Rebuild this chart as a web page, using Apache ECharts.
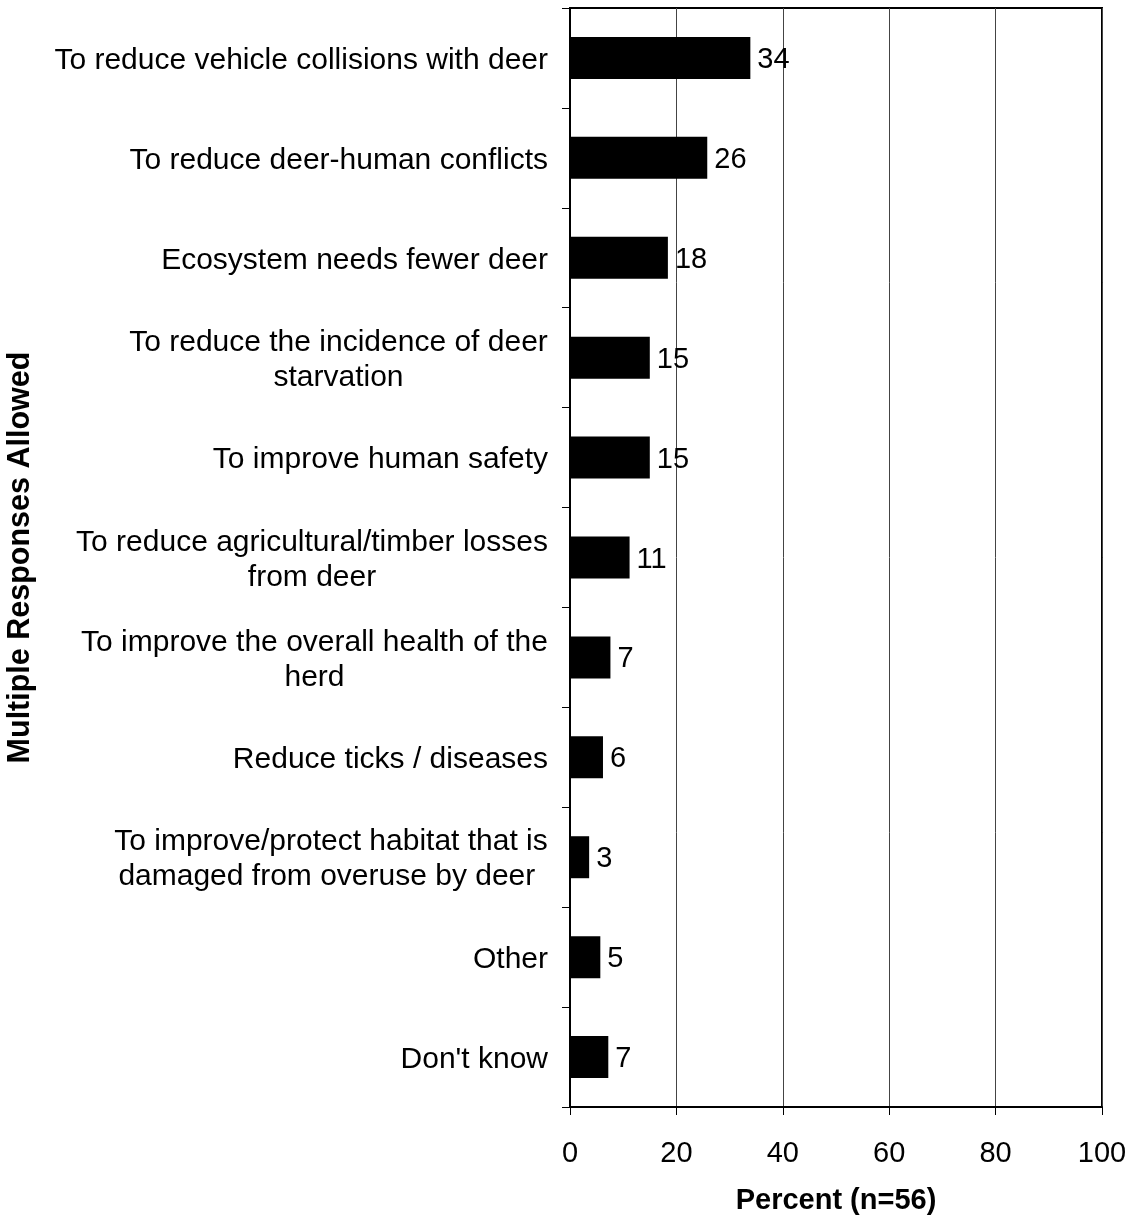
<!DOCTYPE html>
<html>
<head>
<meta charset="utf-8">
<script src="https://cdn.jsdelivr.net/npm/echarts@6/dist/echarts.min.js"></script>
<style>
html,body{margin:0;padding:0;background:#fff;}
#chart{width:1132px;height:1217px;}
</style>
</head>
<body>
<div id="chart"></div>
<script>
// ---- data ----
const categories = [
  'To reduce vehicle collisions with deer',
  'To reduce deer-human conflicts',
  'Ecosystem needs fewer deer',
  'To reduce the incidence of deer\nstarvation',
  'To improve human safety',
  'To reduce agricultural/timber losses\nfrom deer',
  'To improve the overall health of the\nherd',
  'Reduce ticks / diseases',
  'To improve/protect habitat that is\ndamaged from overuse by deer ',
  'Other',
  "Don't know"
];
const values = [33.9, 25.8, 18.4, 15.0, 15.0, 11.2, 7.6, 6.2, 3.6, 5.7, 7.2];
const valueLabels = ['34', '26', '18', '15', '15', '11', '7', '6', '3', '5', '7'];
const xTicks = [0, 20, 40, 60, 80, 100];
const xAxisTitle = 'Percent (n=56)';
const yAxisTitle = 'Multiple Responses Allowed';

// ---- styling ----
const FONT = '"Liberation Sans", Arial, Helvetica, sans-serif';
const FS = 29;
const CFS = 30;
const LH = 35;

const mctx = document.createElement('canvas').getContext('2d');
mctx.font = CFS + 'px ' + FONT;
const rich = {};
categories.forEach((c, i) => {
  const lines = c.split('\n');
  if (lines.length > 1) {
    const w = Math.max(...lines.map(l => mctx.measureText(l).width));
    rich['c' + i] = {
      width: Math.ceil(w), align: 'center',
      fontSize: CFS, fontFamily: FONT, lineHeight: LH, color: '#000'
    };
  }
});

const chart = echarts.init(document.getElementById('chart'), null, {renderer: 'canvas'});
chart.setOption({
  animation: false,
  backgroundColor: '#fff',
  grid: {
    left: 570, right: 30, top: 8, bottom: 110,
    show: true, borderColor: '#000', borderWidth: 2,
    outerBoundsMode: 'none'
  },
  xAxis: {
    type: 'value',
    min: xTicks[0], max: xTicks[xTicks.length - 1], interval: 20,
    name: xAxisTitle,
    nameLocation: 'middle',
    nameGap: 79,
    nameTextStyle: {fontSize: FS, fontWeight: 'bold', fontFamily: FONT, color: '#000'},
    axisLine: {show: true, lineStyle: {color: '#000', width: 2}},
    axisTick: {show: true, length: 8, lineStyle: {color: '#000', width: 1}},
    axisLabel: {fontSize: FS, fontFamily: FONT, color: '#000', margin: 32},
    splitLine: {show: true, lineStyle: {color: '#444', width: 1}}
  },
  yAxis: {
    type: 'category',
    data: categories,
    inverse: true,
    name: yAxisTitle,
    nameLocation: 'middle',
    nameGap: 534,
    nameTextStyle: {fontSize: 30.5, fontWeight: 'bold', fontFamily: FONT, color: '#000'},
    axisLine: {show: true, lineStyle: {color: '#000', width: 2}},
    axisTick: {show: true, length: 8, lineStyle: {color: '#000', width: 1}},
    axisLabel: {
      interval: 0,
      fontSize: CFS, fontFamily: FONT, color: '#000', lineHeight: LH,
      margin: 22,
      padding: [5, 0, 0, 0],
      formatter: function (v, i) {
        const lines = v.split('\n');
        if (lines.length === 1) return v;
        return lines.map(l => '{c' + i + '|' + l + '}').join('\n');
      },
      rich: rich
    },
    splitLine: {show: false}
  },
  series: [{
    type: 'bar',
    data: values,
    barWidth: 42,
    itemStyle: {color: '#000'},
    label: {
      show: true, position: 'right', distance: 7,
      offset: [0, 2],
      fontSize: FS, fontFamily: FONT, color: '#000',
      formatter: p => valueLabels[p.dataIndex]
    }
  }]
});
</script>
</body>
</html>
